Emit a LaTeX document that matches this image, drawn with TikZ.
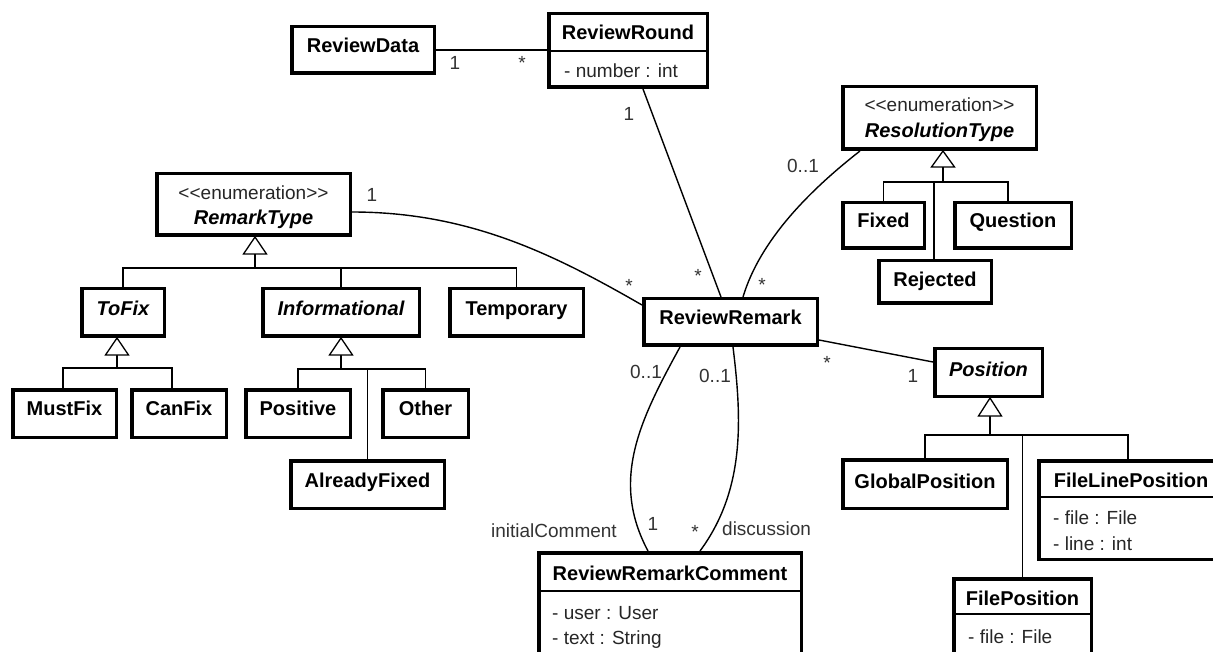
\documentclass[tikz,border=0pt]{standalone}
\usepackage{fontspec}
\setmainfont{Liberation Sans}
\begin{document}
\begin{tikzpicture}[x=1pt,y=-1pt,
  cls/.style={draw=black, line width=3.5pt, outer sep=1.75pt, inner sep=0pt},
  sepline/.style={line width=1.3pt},
  conn/.style={line width=1.4pt},
  gentri/.style={line width=1.3pt, fill=white},
  genline/.style={line width=1.3pt},
  genstem/.style={line width=2.4pt},
  nm/.style={anchor=base, inner sep=0pt, font=\fontsize{20}{24}\selectfont\bfseries},
  abstr/.style={anchor=base, inner sep=0pt, font=\fontsize{20}{24}\selectfont\bfseries\itshape},
  attr/.style={anchor=base west, inner sep=0pt, text=black!85, font=\fontsize{19}{23}\selectfont},
  stereo/.style={anchor=base, inner sep=0pt, text=black!85, font=\fontsize{19}{23}\selectfont},
  mult/.style={anchor=base, inner sep=0pt, text=black!80, font=\fontsize{19}{23}\selectfont},
]
\useasboundingbox (0,0) rectangle (1213,652);

% class box from its outer corners: name, x1, y1, x2, y2
\newcommand\umlbox[5]{%
  \node[cls, minimum width={#4-#2-3.5}, minimum height={#5-#3-3.5}]
    (#1) at ({(#2+#4)/2},{(#3+#5)/2}) {};}

% ---------- classes ----------
\umlbox{rd}{290}{25}{436}{75}
\node[nm] (rdT) at (363,53) {ReviewData};

\umlbox{rr}{547}{12}{709}{89}
\draw[sepline] (rr.west |- 0,51) -- (rr.east |- 0,51);
\node[nm] (rrT) at (628,40) {ReviewRound};
\node[attr] (rrA) at (564,78) {- number : int};

\umlbox{rt}{155}{172}{352}{237}
\node[stereo] (rtS) at (253.5,200) {<{}<enumeration>{}>};
\node[abstr] (rtT) at (253.5,225) {RemarkType};

\umlbox{rest}{841}{85}{1038}{151}
\node[stereo] (restS) at (939.5,112) {<{}<enumeration>{}>};
\node[abstr] (restT) at (939.5,138) {ResolutionType};

\umlbox{tofix}{80}{287}{166}{338}
\node[abstr] (tofixT) at (123,316) {ToFix};
\umlbox{info}{261}{287}{421}{338}
\node[abstr] (infoT) at (341,316) {Informational};
\umlbox{temp}{448}{287}{585}{338}
\node[nm] (tempT) at (516.5,316) {Temporary};

\umlbox{must}{11}{388}{118}{439}
\node[nm] (mustT) at (64.5,415) {MustFix};
\umlbox{can}{130}{388}{228}{439}
\node[nm] (canT) at (179,415) {CanFix};
\umlbox{pos}{244}{388}{352}{439}
\node[nm] (posT) at (298,415) {Positive};
\umlbox{other}{381}{388}{470}{439}
\node[nm] (otherT) at (425.5,415) {Other};
\umlbox{already}{289}{459}{446}{510}
\node[nm] (alreadyT) at (367.5,487) {AlreadyFixed};

\umlbox{fixed}{841}{201}{926}{250}
\node[nm] (fixedT) at (883.5,228) {Fixed};
\umlbox{question}{953}{201}{1073}{250}
\node[nm] (questionT) at (1013,228) {Question};
\umlbox{rejected}{877}{259}{993}{305}
\node[nm] (rejectedT) at (935,287) {Rejected};

\umlbox{rrm}{642}{297}{819}{347}
\node[nm] (rrmT) at (730.5,325) {ReviewRemark};

\umlbox{position}{933}{347}{1044}{398}
\node[abstr] (positionT) at (988.5,376) {Position};

\umlbox{glob}{841}{458}{1009}{510}
\node[nm] (globT) at (925,488) {GlobalPosition};

\umlbox{flp}{1037}{459}{1225}{561}
\draw[sepline] (flp.west |- 0,497) -- (flp.east |- 0,497);
\node[nm] (flpT) at (1131,487) {FileLinePosition};
\node[attr] (flpA) at (1053,524) {- file : File};
\node[attr] (flpB) at (1053,550) {- line : int};

\umlbox{fp}{952}{577}{1093}{690}
\draw[sepline] (fp.west |- 0,614) -- (fp.east |- 0,614);
\node[nm] (fpT) at (1022.5,605) {FilePosition};
\node[attr] (fpA) at (968,643) {- file : File};

\umlbox{rrc}{537}{551}{803}{690}
\draw[sepline] (rrc.west |- 0,591) -- (rrc.east |- 0,591);
\node[nm] (rrcT) at (670,580) {ReviewRemarkComment};
\node[attr] (rrcA) at (552,619) {- user : User};
\node[attr] (rrcB) at (552,644) {- text : String};

% ---------- generalizations ----------
% RemarkType
\coordinate (rtbar) at (255,268);
\draw[genstem] ([xshift=1.5pt]rt.south) ++(0,17) -- (rtbar);
\draw[genline] (tofix.north) |- (rtbar) -| (temp.north);
\draw[genline] (info.north) -- (info.north |- rtbar);
\draw[gentri] ([xshift=1.5pt]rt.south) -- ++(-11.5,17) -- ++(23,0) -- cycle;

% ToFix
\coordinate (tfbar) at (117,368);
\draw[genstem] ([xshift=-6pt]tofix.south) ++(0,17) -- (tfbar);
\draw[genline] ([xshift=-1.5pt]must.north) |- (tfbar) -| ([xshift=-7pt]can.north);
\draw[gentri] ([xshift=-6pt]tofix.south) -- ++(-11.5,17) -- ++(23,0) -- cycle;

% Informational
\coordinate (infbar) at (341,369);
\draw[genstem] (info.south) ++(0,17) -- (infbar);
\draw[genline] (pos.north) |- (infbar) -| (other.north);
\draw[genline] (already.north) -- (already.north |- infbar);
\draw[gentri] (info.south) -- ++(-11.5,17) -- ++(23,0) -- cycle;

% ResolutionType
\coordinate (resbar) at (943,182);
\draw[genstem] ([xshift=3.5pt]rest.south) ++(0,16) -- (resbar);
\draw[genline] (fixed.north) |- (resbar) -| ([xshift=-5pt]question.north);
\draw[genline] ([xshift=-1pt]rejected.north) -- ([xshift=-1pt]rejected.north |- resbar);
\draw[gentri] ([xshift=3.5pt]rest.south) -- ++(-11.5,16) -- ++(23,0) -- cycle;

% Position
\coordinate (posbar) at (990,435);
\draw[genstem] ([xshift=1.5pt]position.south) ++(0,18) -- (posbar);
\draw[genline] (glob.north) |- (posbar) -| ([xshift=-3pt]flp.north);
\draw[genline] (fp.north) -- (fp.north |- posbar);
\draw[gentri] ([xshift=1.5pt]position.south) -- ++(-11.5,18) -- ++(23,0) -- cycle;

% ---------- associations ----------
\draw[conn] (rd.east) -- (rr.west |- rd.east);
\node[mult] (m1) at (455,70) {1};
\node[mult] (m2) at (522,70) {*};

\draw[conn] ([xshift=15pt]rr.south) -- ([xshift=-9.5pt]rrm.north);
\node[mult] (m3) at (629,121) {1};
\node[mult] (m4) at (698,283) {*};

\draw[conn] ([yshift=-7.5pt]rt.east) .. controls (470,212) and (555,255) .. ([yshift=-8pt]rrm.north west);
\node[mult] (m5) at (372,202) {1};
\node[mult] (m6) at (629,293) {*};

\draw[conn] ([xshift=19pt]rest.south west) .. controls (810,190) and (760,240) .. ([xshift=12.5pt]rrm.north);
\node[mult] (m7) at (803,173) {0..1};
\node[mult] (m8) at (762,292) {*};

\draw[conn] ([xshift=-50.5pt]rrm.south) .. controls (640,420) and (610,480) .. ([xshift=-22pt]rrc.north);
\node[mult] (m9) at (646,378) {0..1};
\node[mult] (m10) at (653,530) {1};
\node[mult, anchor=base east] (r1) at (617,537) {initialComment};

\draw[conn] ([xshift=2.5pt]rrm.south) .. controls (742,420) and (745,490) .. ([xshift=30pt]rrc.north);
\node[mult] (m11) at (715,382) {0..1};
\node[mult] (m12) at (695,538) {*};
\node[mult, anchor=base west] (r2) at (722,535) {discussion};

\draw[conn] ([yshift=-18pt]rrm.east) -- ([yshift=10.5pt]position.west);
\node[mult] (m13) at (827,370) {*};
\node[mult] (m14) at (913,382) {1};
\end{tikzpicture}
\end{document}
